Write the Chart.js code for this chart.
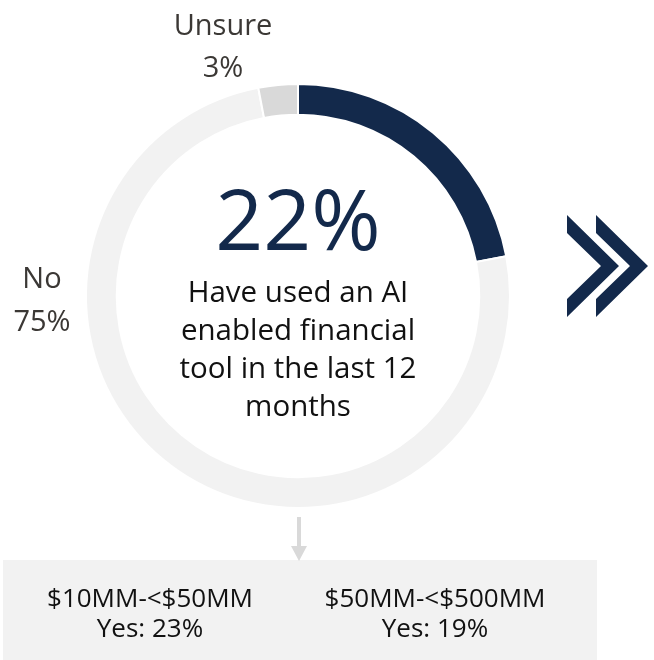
<!DOCTYPE html>
<html lang="en">

<head>
    <meta charset="UTF-8">
    <title>AI enabled financial tool usage</title>
    <script src="https://cdn.jsdelivr.net/npm/chart.js"></script>
    <style>
        body {
            margin: 0;
            background: #ffffff;
        }
    </style>
</head>

<body>
    <canvas id="grafico" width="654" height="660"></canvas>
</body>

</html>

<script>
    // Dados
    var categorias = ['Yes', 'No', 'Unsure'];
    var percentuais = [22, 75, 3];
    var cores = ['#13294b', '#f2f2f2', '#d9d9d9'];

    var faixas = ['$10MM-<$50MM', '$50MM-<$500MM'];
    var faixasSim = [23, 19];

    var textoCentral = ['Have used an AI', 'enabled financial', 'tool in the last 12', 'months'];

    var fonte = '"Segoe UI", "Open Sans", sans-serif';

    // Textos e formas em volta do donut
    const extras = {
        id: 'extras',
        beforeDraw(chart) {
            const ctx = chart.ctx;
            // caixa cinza embaixo
            ctx.save();
            ctx.fillStyle = '#f2f2f2';
            ctx.fillRect(3, 560, 594, 100);

            // seta para baixo
            ctx.fillStyle = '#d9d9d9';
            ctx.fillRect(297, 517, 4, 31);
            ctx.beginPath();
            ctx.moveTo(291, 546);
            ctx.lineTo(307, 546);
            ctx.lineTo(299, 561);
            ctx.closePath();
            ctx.fill();
            ctx.restore();
        },
        afterDraw(chart) {
            const ctx = chart.ctx;
            const arco = chart.getDatasetMeta(0).data[0];
            const cx = arco.x;
            const cy = arco.y;

            ctx.save();
            ctx.textAlign = 'center';
            ctx.textBaseline = 'alphabetic';

            // numero grande
            ctx.fillStyle = cores[0];
            ctx.font = '84px ' + fonte;
            ctx.fillText(percentuais[0] + '%', cx, cy - 46);

            ctx.fillStyle = '#111111';
            ctx.font = '29.5px ' + fonte;
            for (let i = 0; i < textoCentral.length; i++) {
                ctx.fillText(textoCentral[i], cx, cy + 6 + i * 38);
            }

            // rotulos das fatias
            ctx.fillStyle = '#3b3835';
            ctx.font = '29px ' + fonte;
            ctx.fillText(categorias[2], 223, 35);
            ctx.fillText(percentuais[2] + '%', 223, 77);
            ctx.fillText(categorias[1], 42, 288);
            ctx.fillText(percentuais[1] + '%', 42, 331);

            // faixas de receita
            ctx.fillStyle = '#111111';
            ctx.font = '26px ' + fonte;
            for (let i = 0; i < faixas.length; i++) {
                let x = i === 0 ? 150 : 435;
                ctx.fillText(faixas[i], x, 607);
                ctx.fillText('Yes: ' + faixasSim[i] + '%', x, 637);
            }

            // chevrons
            ctx.fillStyle = cores[0];
            for (let k = 0; k < 2; k++) {
                let x0 = 567 + k * 29;
                ctx.beginPath();
                ctx.moveTo(x0, 215);
                ctx.lineTo(x0 + 52, 266);
                ctx.lineTo(x0, 317);
                ctx.lineTo(x0, 299);
                ctx.lineTo(x0 + 34, 266);
                ctx.lineTo(x0, 233);
                ctx.closePath();
                ctx.fill();
            }
            ctx.restore();
        }
    };

    const config = {
        type: 'doughnut',
        data: {
            labels: categorias,
            datasets: [{
                data: percentuais,
                backgroundColor: cores,
                borderColor: '#ffffff',
                borderWidth: 2
            }]
        },
        options: {
            responsive: false,
            animation: false,
            cutout: '85.5%',
            layout: {
                padding: { left: 85, right: 143, top: 83, bottom: 151 }
            },
            plugins: {
                legend: { display: false },
                tooltip: { enabled: false }
            }
        },
        plugins: [extras]
    };

    let ctx = document.getElementById('grafico').getContext('2d');
    let meuGrafico = new Chart(ctx, config);
</script>
